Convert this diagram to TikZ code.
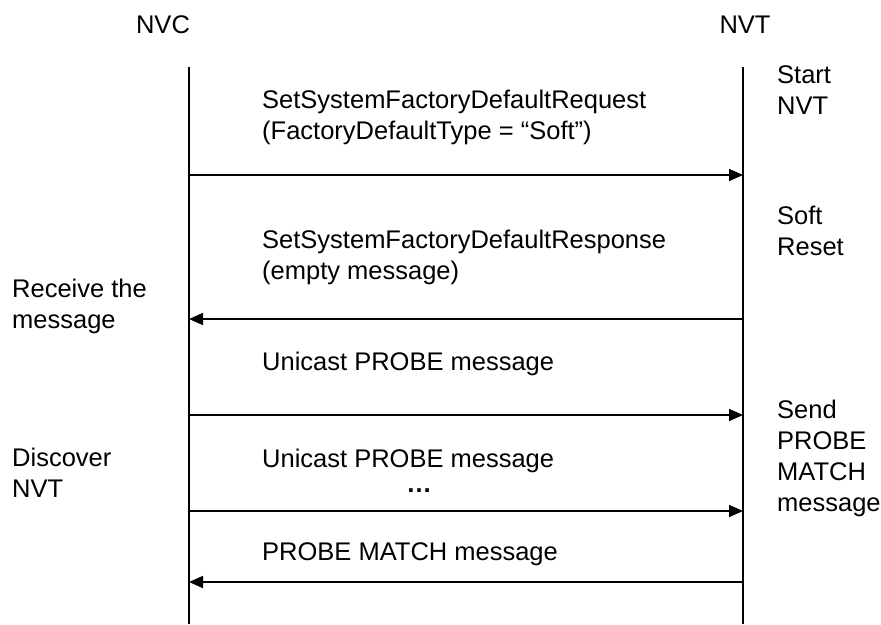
\documentclass[tikz,border=0pt]{standalone}
\usepackage{fontspec}
\setmainfont{Liberation Sans}
\usetikzlibrary{arrows.meta}

\tikzset{
  life/.style={line width=1.6pt},
  msg/.style={line width=1.6pt, -{Triangle[length=14pt,width=12pt]}},
  lbl/.style={anchor=base west, align=left, inner sep=0pt,
    font=\fontsize{25.5}{31}\selectfont},
}

\begin{document}
\begin{tikzpicture}[x=1pt, y=-1pt]
   \useasboundingbox (0,0) rectangle (881,624);
   % heads
   \node[lbl, anchor=base] (nvc) at (163,33) {NVC};
   \node[lbl, anchor=base] (nvt) at (745,33) {NVT};
   % life lines
   \coordinate (nvcTop) at (189,67);
   \coordinate (nvcBot) at (189,624);
   \coordinate (nvtTop) at (743,67);
   \coordinate (nvtBot) at (743,624);
   \draw[life] (nvcTop) -- (nvcBot);
   \draw[life] (nvtTop) -- (nvtBot);
   \foreach \i/\y in {1/175, 2/319, 3/415, 4/511, 5/582} {
     \coordinate (c\i) at (189,\y);
     \coordinate (t\i) at (743,\y);
   }
   % messages
   \draw[msg] (c1) -- (t1);
   \draw[msg] (t2) -- (c2);
   \draw[msg] (c3) -- (t3);
   \draw[msg] (c4) -- (t4);
   \draw[msg] (t5) -- (c5);
   % (base = last line)
   \node[lbl] (req) at (262,139)
     {SetSystemFactoryDefaultRequest\\(FactoryDefaultType = “Soft”)};
   \node[lbl] (resp) at (262,279)
     {SetSystemFactoryDefaultResponse\\(empty message)};
   \node[lbl] (probeA) at (262,370) {Unicast PROBE message};
   \node[lbl] (probeB) at (262,467) {Unicast PROBE message};
   \node[lbl, anchor=base, font=\fontsize{25.5}{31}\selectfont\bfseries]
     (dots) at (419,492) {…};
   \node[lbl] (match) at (262,560) {PROBE MATCH message};
   % side notes
   \node[lbl] (start) at (777,114) {Start\\NVT};
   \node[lbl] (reset) at (777,255) {Soft\\Reset};
   \node[lbl] (send) at (777,511) {Send\\PROBE\\MATCH\\message};
   \node[lbl] (recv) at (12,328) {Receive the\\message};
   \node[lbl] (disc) at (12,497) {Discover\\NVT};
\end{tikzpicture}
\end{document}
